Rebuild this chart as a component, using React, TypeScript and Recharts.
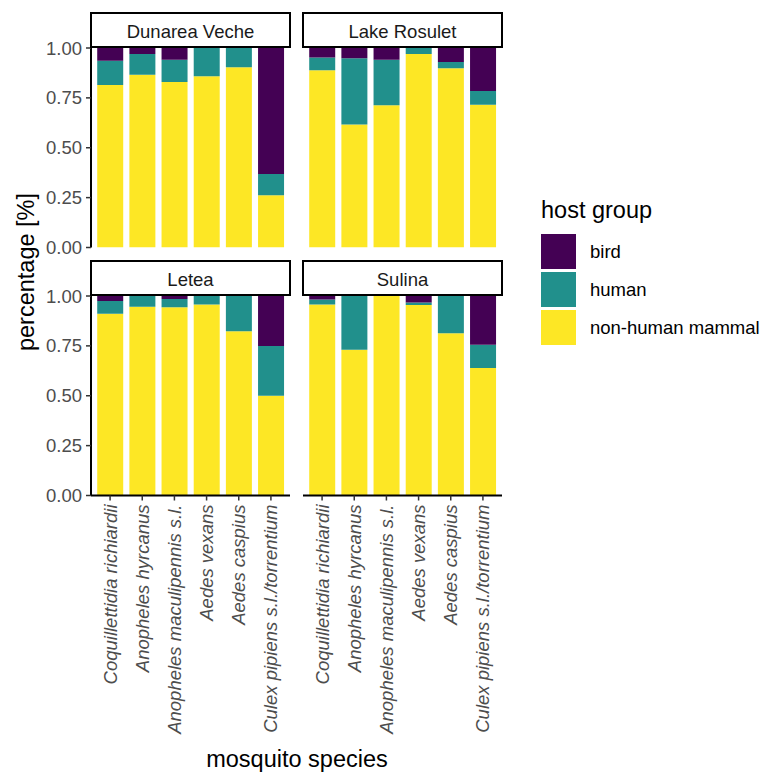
import React from "react";
import { BarChart, Bar, XAxis, YAxis } from "recharts";

const species = [
  "Coquillettidia richiardii",
  "Anopheles hyrcanus",
  "Anopheles maculipennis s.l.",
  "Aedes vexans",
  "Aedes caspius",
  "Culex pipiens s.l./torrentium",
];

const sites = ["Dunarea Veche", "Lake Rosulet", "Letea", "Sulina"];

// share of blood meals per host group, by site
const dunareaMammal = [0.815, 0.866, 0.829, 0.859, 0.903, 0.262];
const dunareaHuman = [0.121, 0.104, 0.112, 0.141, 0.097, 0.107];
const dunareaBird = [0.064, 0.03, 0.059, 0, 0, 0.631];

const rosuletMammal = [0.889, 0.617, 0.713, 0.97, 0.899, 0.715];
const rosuletHuman = [0.064, 0.331, 0.228, 0.03, 0.031, 0.07];
const rosuletBird = [0.047, 0.052, 0.059, 0, 0.07, 0.215];

const leteaMammal = [0.911, 0.946, 0.943, 0.957, 0.823, 0.5];
const leteaHuman = [0.064, 0.054, 0.042, 0.043, 0.177, 0.25];
const leteaBird = [0.025, 0, 0.015, 0, 0, 0.25];

const sulinaMammal = [0.957, 0.731, 1.0, 0.955, 0.813, 0.639];
const sulinaHuman = [0.025, 0.269, 0, 0.013, 0.187, 0.117];
const sulinaBird = [0.018, 0, 0, 0.032, 0, 0.244];

const yTicks = [0, 0.25, 0.5, 0.75, 1];

const hostGroups = ["bird", "human", "non-human mammal"];
const colors = {
  bird: "#440154",
  human: "#21908C",
  mammal: "#FDE725",
};

const FONT = "'Liberation Sans', Arial, sans-serif";
const PLOT_W = 199;
const PLOT_H = 199.5;
const LEFT_X = 91;
const RIGHT_X = 303;
const TOP_Y = 48;
const BOTTOM_Y = 296;
const PAD = 12; // room for the edge tick labels

const build = (m: number[], h: number[], b: number[]) =>
  species.map((s, i) => ({ species: s, mammal: m[i], human: h[i], bird: b[i] }));

const XTick = (props: any) => {
  const { x, y, payload } = props;
  return (
    <text
      x={x}
      y={y}
      transform={`rotate(-90, ${x}, ${y})`}
      textAnchor="end"
      dy="0.35em"
      fill="#4D4D4D"
      fontSize={18.5}
      fontStyle="italic"
      fontFamily={FONT}
    >
      {payload.value}
    </text>
  );
};

function Panel({ x, y, data, showY, showX }: any) {
  const yW = showY ? 60 : 0;
  const xH = showX ? 265 : 0;
  const bottom = showX ? 0 : PAD;
  return (
    <div style={{ position: "absolute", left: x - yW, top: y - PAD }}>
      <BarChart
        width={PLOT_W + yW}
        height={PLOT_H + xH + PAD + bottom}
        data={data}
        margin={{ top: PAD, right: 0, bottom, left: 0 }}
        barCategoryGap="10%"
      >
        <XAxis
          dataKey="species"
          hide={!showX}
          height={xH}
          padding={{ left: 3, right: 3 }}
          interval={0}
          tick={<XTick />}
          tickSize={5}
          tickMargin={4}
          axisLine={{ stroke: "#000", strokeWidth: 2 }}
          tickLine={{ stroke: "#333", strokeWidth: 1.5 }}
        />
        <YAxis
          type="number"
          domain={[0, 1]}
          allowDataOverflow
          ticks={yTicks}
          interval={0}
          hide={!showY}
          width={yW}
          tickFormatter={(v: number) => v.toFixed(2)}
          tick={{ fill: "#4D4D4D", fontSize: 18.5, fontFamily: FONT }}
          tickSize={5}
          tickMargin={4}
          axisLine={{ stroke: "#000", strokeWidth: 2 }}
          tickLine={{ stroke: "#333", strokeWidth: 1.5 }}
        />
        <Bar dataKey="mammal" stackId="a" fill={colors.mammal} isAnimationActive={false} />
        <Bar dataKey="human" stackId="a" fill={colors.human} isAnimationActive={false} />
        <Bar dataKey="bird" stackId="a" fill={colors.bird} isAnimationActive={false} />
      </BarChart>
    </div>
  );
}

function Strip({ x, y, label }: any) {
  return (
    <g>
      <rect x={x} y={y} width={PLOT_W} height={34} fill="#fff" stroke="#000" strokeWidth={2} />
      <text x={x + PLOT_W / 2} y={y + 24.5} textAnchor="middle" fontSize={18.5} fill="#1A1A1A" fontFamily={FONT}>
        {label}
      </text>
    </g>
  );
}

export default function App() {
  const keyColors = [colors.bird, colors.human, colors.mammal];
  return (
    <div style={{ position: "absolute", left: 0, top: 0, width: 769, height: 773, background: "#fff", fontFamily: FONT, overflow: "hidden" }}>
      <Panel x={LEFT_X} y={TOP_Y} data={build(dunareaMammal, dunareaHuman, dunareaBird)} showY showX={false} />
      <Panel x={RIGHT_X} y={TOP_Y} data={build(rosuletMammal, rosuletHuman, rosuletBird)} showY={false} showX={false} />
      <Panel x={LEFT_X} y={BOTTOM_Y} data={build(leteaMammal, leteaHuman, leteaBird)} showY showX />
      <Panel x={RIGHT_X} y={BOTTOM_Y} data={build(sulinaMammal, sulinaHuman, sulinaBird)} showY={false} showX />
      <svg width={769} height={773} style={{ position: "absolute", left: 0, top: 0, pointerEvents: "none" }}>
        <Strip x={LEFT_X} y={13} label={sites[0]} />
        <Strip x={RIGHT_X} y={13} label={sites[1]} />
        <Strip x={LEFT_X} y={261} label={sites[2]} />
        <Strip x={RIGHT_X} y={261} label={sites[3]} />
        <text
          x={26}
          y={272}
          transform="rotate(-90, 26, 272)"
          textAnchor="middle"
          dy="0.35em"
          fontSize={23.5}
          fill="#000"
          fontFamily={FONT}
        >
          percentage [%]
        </text>
        <text x={297} y={767} textAnchor="middle" fontSize={23.5} fill="#000" fontFamily={FONT}>
          mosquito species
        </text>
        <text x={541} y={218} fontSize={23.5} fill="#000" fontFamily={FONT}>
          host group
        </text>
        {hostGroups.map((g, i) => (
          <g key={g}>
            <rect x={541} y={234 + i * 38} width={35} height={35} fill={keyColors[i]} />
            <text x={590} y={234 + i * 38 + 24} fontSize={18.5} fill="#000" fontFamily={FONT}>
              {g}
            </text>
          </g>
        ))}
      </svg>
    </div>
  );
}
